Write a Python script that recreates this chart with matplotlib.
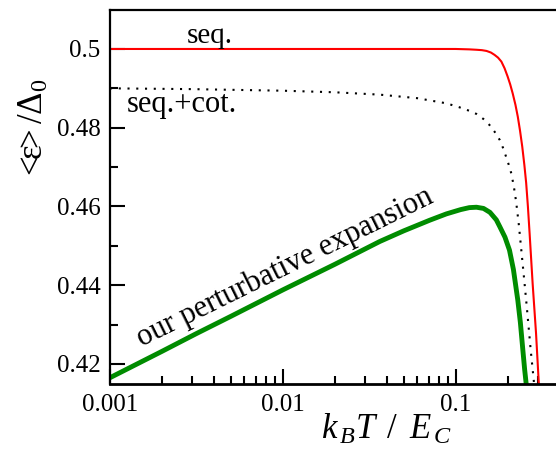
import matplotlib
matplotlib.use("Agg")
import matplotlib.pyplot as plt
from matplotlib.ticker import FixedLocator, NullFormatter, LogLocator

plt.rcParams['font.family'] = ['Liberation Serif', 'DejaVu Serif']
plt.rcParams['mathtext.fontset'] = 'custom'
plt.rcParams['mathtext.rm'] = 'Liberation Serif'
plt.rcParams['mathtext.it'] = 'Liberation Serif:italic'

# sequential tunneling
T_seq = [0.001, 0.01, 0.05, 0.1, 0.12, 0.132, 0.142, 0.151, 0.160, 0.168, 0.176,
         0.184, 0.192, 0.200, 0.207, 0.214, 0.222, 0.229, 0.236, 0.243, 0.250,
         0.256, 0.262, 0.268, 0.279, 0.292, 0.303, 0.31]
E_seq = [0.5, 0.5, 0.5, 0.5, 0.4999, 0.4998, 0.4997, 0.4995, 0.4991, 0.4985, 0.4978,
         0.4968, 0.4951, 0.4930, 0.4910, 0.4887, 0.4858, 0.4828, 0.4792, 0.4752, 0.4705,
         0.4660, 0.4600, 0.4532, 0.4405, 0.4278, 0.4150, 0.408]

# sequential + cotunneling
T_cot = [0.001, 0.003, 0.01, 0.02, 0.0364, 0.06, 0.0883, 0.105, 0.12, 0.132, 0.145,
         0.157, 0.168, 0.180, 0.188, 0.196, 0.203, 0.210, 0.217, 0.224, 0.232, 0.240,
         0.248, 0.256, 0.264, 0.272, 0.283, 0.29]
E_cot = [0.4900, 0.4898, 0.4894, 0.4890, 0.4884, 0.4875, 0.4862, 0.4852, 0.4843, 0.4835,
         0.4822, 0.4807, 0.4790, 0.4769, 0.4749, 0.4726, 0.4706, 0.4684, 0.4652, 0.4612,
         0.4555, 0.4489, 0.4425, 0.4362, 0.4298, 0.4235, 0.4160, 0.411]

# perturbative expansion
T_pert = [0.001, 0.002, 0.00316, 0.00501, 0.01, 0.02, 0.0364, 0.0501, 0.0708, 0.0883,
          0.107, 0.120, 0.132, 0.145, 0.158, 0.172, 0.180, 0.193, 0.205, 0.216, 0.229,
          0.237, 0.245, 0.251, 0.256, 0.260]
E_pert = [0.4165, 0.4232, 0.4277, 0.4321, 0.4388, 0.4453, 0.4511, 0.4538, 0.4565, 0.4581,
          0.4592, 0.4597, 0.4598, 0.4595, 0.4585, 0.4566, 0.4549, 0.4522, 0.4489, 0.4440,
          0.4362, 0.4305, 0.4235, 0.4185, 0.4150, 0.412]

yticks = [0.42, 0.44, 0.46, 0.48, 0.5]
ytick_labels = ['0.42', '0.44', '0.46', '0.48', '0.5']
xticks = [0.001, 0.01, 0.1]
xtick_labels = ['0.001', '0.01', '0.1']

fig = plt.figure(figsize=(5.56, 4.59), dpi=100)
ax = fig.add_axes([110/556, 1-384/459, 1-110/556, (384-10)/459])

ax.plot(T_seq, E_seq, color='#ff0000', lw=1.5, solid_capstyle='butt',
        solid_joinstyle='round')
ax.plot(T_cot, E_cot, color='black', lw=1.5, linestyle=(0, (1, 3.2)))
ax.plot(T_pert, E_pert, color='#008c00', lw=3.5, solid_capstyle='butt',
        solid_joinstyle='round')

ax.set_xscale('log')
ax.set_xlim(0.001, 0.381)
ax.set_ylim(0.4149, 0.5099)

ax.xaxis.set_major_locator(FixedLocator(xticks))
ax.set_xticklabels(xtick_labels)
ax.xaxis.set_minor_locator(LogLocator(base=10, subs=range(2, 10)))
ax.xaxis.set_minor_formatter(NullFormatter())
ax.yaxis.set_major_locator(FixedLocator(yticks))
ax.set_yticklabels(ytick_labels)
ax.yaxis.set_minor_locator(FixedLocator([0.43, 0.45, 0.47, 0.49]))

ax.tick_params(which='major', direction='in', length=10.5, width=1.5,
               labelsize=18, pad=7, top=False, right=False)
ax.tick_params(which='minor', direction='in', length=5.5, width=1.5,
               top=False, right=False)
for s in ['left', 'top']:
    ax.spines[s].set_linewidth(1.6)
ax.spines['bottom'].set_linewidth(2.0)
ax.spines['right'].set_visible(False)

ax.text(0.00376, 0.5015, 'seq.', fontsize=21, ha='center', va='baseline')
ax.text(0.00125, 0.4840, 'seq.+cot.', fontsize=22, ha='left', va='baseline')
ax.text(0.00152, 0.4244, 'our perturbative expansion', fontsize=22,
        rotation=26.3, rotation_mode='anchor', ha='left', va='baseline')

fig.text(386/556, 1-439/459, r'$k_{\,B}T\ \,/\ \,E_{\,C}$', fontsize=25,
         ha='center', va='baseline')
fig.text(34/556, 1-130/459, r'$\mathrm{<\!\!ε\!\!>/Δ}_0$', fontsize=25,
         rotation=90, ha='center', va='center')

fig.savefig('out.png', dpi=100)
